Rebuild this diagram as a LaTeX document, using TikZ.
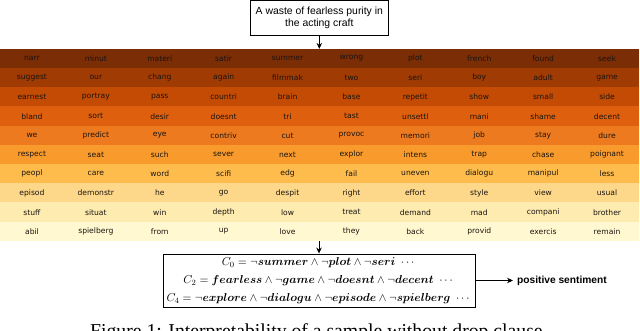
\RequirePackage{fix-cm}
\documentclass[tikz,border=0pt]{standalone}
\usepackage{amsmath,amssymb}
\usepackage{fontspec}
\newfontfamily\boxfont{Liberation Sans}
\newfontfamily\cellfont{DejaVu Sans}
\newfontfamily\capfont{Liberation Serif}
\usetikzlibrary{arrows.meta,positioning}
\definecolor{heatInk}{HTML}{1A1410}
\definecolor{heat1}{HTML}{7B2D06}
\definecolor{heat2}{HTML}{A03B04}
\definecolor{heat3}{HTML}{C44B03}
\definecolor{heat4}{HTML}{DE600E}
\definecolor{heat5}{HTML}{EE7A1F}
\definecolor{heat6}{HTML}{F99B2C}
\definecolor{heat7}{HTML}{FEBC4C}
\definecolor{heat8}{HTML}{FED88A}
\definecolor{heat9}{HTML}{FEEBB0}
\definecolor{heat10}{HTML}{FFF8D0}
\tikzset{
  heat box/.style={draw=black, line width=0.9pt, fill=white, align=center,
    inner sep=0pt},
  heat cell/.style={minimum width=64.1pt, minimum height=19.4pt, inner sep=0pt,
    outer sep=0pt, text=heatInk, font=\cellfont\fontsize{7.6}{9}\selectfont},
  heat arrow/.style={-{Stealth[length=6pt,width=5.5pt]}, draw=black,
    line width=0.9pt, line cap=butt}
}

\begin{document}
\begin{tikzpicture}[x=1pt,y=-1pt]
  \useasboundingbox (0,0) rectangle (640,331);
  % input sentence
  \node[heat box, minimum width=137.3pt, minimum height=34.3pt,
    font=\boxfont\fontsize{10.4}{11.7}\selectfont] (sample) at (319.3,17.9)
    {A waste of fearless purity in\\the acting craft};
  % word heat map
  \foreach \words [count=\r] in {
      {narr,minut,materi,satir,summer,wrong,plot,french,found,seek},
      {suggest,our,chang,again,filmmak,two,seri,boy,adult,game},
      {earnest,portray,pass,countri,brain,base,repetit,show,small,side},
      {bland,sort,desir,doesnt,tri,tast,unsettl,mani,shame,decent},
      {we,predict,eye,contriv,cut,provoc,memori,job,stay,dure},
      {respect,seat,such,sever,next,explor,intens,trap,chase,poignant},
      {peopl,care,word,scifi,edg,fail,uneven,dialogu,manipul,less},
      {episod,demonstr,he,go,despit,right,effort,style,view,usual},
      {stuff,situat,win,depth,low,treat,demand,mad,compani,brother},
      {abil,spielberg,from,up,love,they,back,provid,exercis,remain}} {
    \foreach \w [count=\c] in \words {
      \node[heat cell, fill=heat\r] (cell-\r-\c)
        at ({(\c-0.5)*63.9},{49+(\r-0.5)*19.2}) {\w};
    }
  }
  % clauses
  \node[heat box, minimum width=312pt, minimum height=53pt,
    font=\fontsize{11.5}{18}\selectfont] (clauses) at (319,280.5)
    {$C_0 = \neg\boldsymbol{summer} \wedge \neg\boldsymbol{plot} \wedge \neg\boldsymbol{seri}\ \cdots$\\
     $C_2 = \boldsymbol{fearless} \wedge \neg\boldsymbol{game} \wedge \neg\boldsymbol{doesnt} \wedge \neg\boldsymbol{decent}\ \cdots$\\
     $C_4 = \neg\boldsymbol{explore} \wedge \neg\boldsymbol{dialogu} \wedge \neg\boldsymbol{episode} \wedge \neg\boldsymbol{spielberg}\ \cdots$};
  \node[anchor=west, inner xsep=4pt, font=\boxfont\bfseries\fontsize{10.2}{12}\selectfont]
    (verdict) at (513,280.5) {positive sentiment};
  \node[anchor=base west, inner sep=0pt, font=\capfont\fontsize{19.7}{22}\selectfont]
    (caption) at (90,337) {Figure 1: Interpretability of a sample without drop clause.};
  % connectors
  \draw[heat arrow] (sample.south) -- (sample.south |- cell-1-1.north);
  \draw[heat arrow] (clauses.north |- cell-10-1.south) -- (clauses.north);
  \draw[heat arrow] (clauses.east) -- (verdict.west);
\end{tikzpicture}
\end{document}
